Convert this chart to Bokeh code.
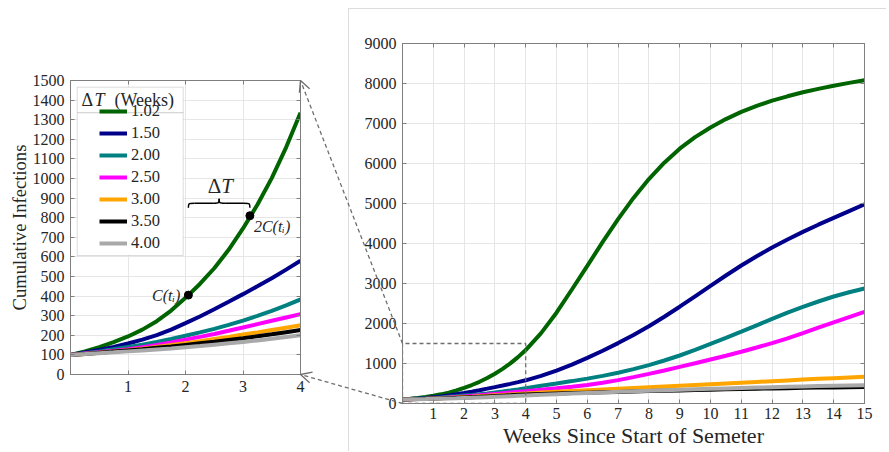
import numpy as np
from bokeh.plotting import figure
from bokeh.models import (Range1d, FixedTicker, LinearAxis, Legend, LegendItem, Label,
                          BoxAnnotation, Arrow, OpenHead)
from bokeh.embed import file_html
from bokeh.resources import INLINE

# ---------------- data ----------------
weeks = [0, 0.25, 0.5, 0.75, 1, 1.25, 1.5, 1.75, 2, 2.25, 2.5, 2.75, 3, 3.25, 3.5, 3.75, 4,
         4.5, 5, 5.5, 6, 6.5, 7, 7.5, 8, 8.5, 9, 9.5, 10, 10.5, 11, 11.5, 12, 12.5, 13, 13.5,
         14, 14.5, 15]

dt_labels = ["1.02", "1.50", "2.00", "2.50", "3.00", "3.50", "4.00"]

c_102 = [100, 118, 140, 165, 194, 229, 272, 326, 391, 462, 542, 636, 745, 866, 1002, 1159, 1335,
         1760, 2270, 2850, 3440, 4040, 4610, 5140, 5610, 6020, 6370, 6660, 6900, 7110, 7290,
         7440, 7570, 7680, 7780, 7865, 7945, 8015, 8080]
c_150 = [100, 112, 125, 140, 158, 178, 201, 229, 262, 296, 333, 371, 410, 450, 491, 535, 580,
         690, 820, 970, 1140, 1320, 1510, 1715, 1930, 2170, 2420, 2680, 2940, 3200, 3450,
         3680, 3900, 4100, 4290, 4470, 4640, 4810, 4980]
c_200 = [100, 109, 118, 129, 140, 152, 166, 181, 198, 215, 233, 253, 275, 299, 325, 353, 383,
         443, 500, 560, 622, 690, 770, 860, 960, 1075, 1200, 1340, 1490, 1640, 1795,
         1955, 2115, 2270, 2415, 2550, 2675, 2780, 2875]
c_250 = [100, 107, 114, 121, 129, 139, 151, 164, 178, 192, 207, 223, 240, 257, 274, 291, 308,
         343, 380, 420, 465, 520, 585, 660, 740, 825, 915, 1005, 1100, 1195, 1295,
         1400, 1510, 1630, 1760, 1895, 2030, 2160, 2290]
c_300 = [100, 105, 111, 117, 124, 132, 141, 150, 160, 170, 181, 192, 204, 215, 227, 239, 251,
         272, 292, 312, 331, 350, 369, 388, 407, 426, 445, 464, 483, 502, 521,
         540, 559, 578, 597, 616, 634, 652, 670]
c_350 = [100, 105, 111, 117, 123, 129, 136, 143, 151, 159, 167, 176, 185, 195, 205, 216, 227,
         238, 249, 260, 270, 280, 290, 300, 310, 319, 328, 337, 346, 354, 362,
         370, 377, 384, 391, 397, 403, 408, 413]
c_400 = [100, 104, 109, 113, 118, 123, 128, 133, 139, 145, 152, 159, 166, 174, 182, 191, 200,
         216, 232, 248, 263, 278, 292, 305, 318, 331, 343, 355, 366, 377, 388,
         398, 408, 417, 426, 435, 443, 450, 457]

series = [c_102, c_150, c_200, c_250, c_300, c_350, c_400]
colors = ["#006400", "#00008B", "#008080", "#FF00FF", "#FFA500", "#000000", "#A9A9A9"]

left_x_ticks = [1, 2, 3, 4]
left_y_ticks = list(range(0, 1501, 100))
right_x_ticks = list(range(1, 16))
right_y_ticks = list(range(0, 9001, 1000))

zoom_x_max, zoom_y_max = 4, 1500
full_x_max, full_y_max = 15, 9000

# doubling annotation: C(t_i) and 2C(t_i)
t_i, c_ti = 2.05, 405
t_2, c_2 = 3.12, 810

# ---------------- layout constants (page pixels) ----------------
FONT = "Liberation Serif"
AXC = "#7f7f7f"
GRIDC = "#e6e6e6"
TXT = "#262626"

# frame positions on the page
LF_X, LF_Y, L_FW, L_FH = 70, 80, 230, 294
RF_X, RF_Y, R_FW, R_FH = 402, 43, 462, 360
# borders around each frame
L_BL, L_BR, L_BT, L_BB = 68, 48, 72, 70
R_BL, R_BR, R_BT, R_BB = 54, 22, 35, 48
PAGE_W, PAGE_H = 888, 451


def style_axis(ax, ticks, labels=True):
    ax.ticker = FixedTicker(ticks=ticks)
    ax.axis_line_color = AXC
    ax.major_tick_line_color = AXC
    ax.major_tick_in = 4
    ax.major_tick_out = 0
    ax.minor_tick_line_color = None
    ax.major_label_text_font = FONT
    ax.major_label_text_font_size = "16px"
    ax.major_label_text_color = TXT
    ax.major_label_standoff = 6
    ax.axis_label_text_font = FONT
    ax.axis_label_text_font_style = "normal"
    ax.axis_label_text_color = TXT
    if not labels:
        ax.major_label_text_font_size = "1px"
        ax.major_label_text_color = None
        ax.major_label_standoff = 0


def make_fig(fx, fy, fw, fh, bl, br, bt, bb, xmax, ymax, xt, yt, extra_styles=None):
    styles = {"position": "absolute", "left": f"{fx - bl}px", "top": f"{fy - bt}px"}
    if extra_styles:
        styles.update(extra_styles)
    p = figure(frame_width=fw, frame_height=fh, min_border_left=bl, min_border_right=br,
               min_border_top=bt, min_border_bottom=bb, title=None,
               x_range=Range1d(0, xmax), y_range=Range1d(0, ymax),
               output_backend="svg", toolbar_location=None, styles=styles)
    p.add_layout(LinearAxis(), "above")
    p.add_layout(LinearAxis(), "right")
    style_axis(p.below[0], xt)
    style_axis(p.left[0], yt)
    style_axis(p.above[0], xt, labels=False)
    style_axis(p.right[0], yt, labels=False)
    p.xgrid.ticker = FixedTicker(ticks=xt)
    p.ygrid.ticker = FixedTicker(ticks=yt)
    p.grid.grid_line_color = GRIDC
    p.outline_line_color = AXC
    p.background_fill_color = "white"
    return p


# ---------------- left (zoomed) panel ----------------
left = make_fig(LF_X, LF_Y, L_FW, L_FH, L_BL, L_BR, L_BT, L_BB, zoom_x_max, zoom_y_max,
                left_x_ticks, left_y_ticks)
left.border_fill_alpha = 0
left.left[0].axis_label = "Cumulative Infections"
left.left[0].axis_label_text_font_size = "18.6px"
left.left[0].axis_label_standoff = 0

w = np.array(weeks)
n_left = int(np.sum(w <= zoom_x_max))
left_rs = []
for s, c in zip(series, colors):
    r = left.line(weeks[:n_left], s[:n_left], line_color=c, line_width=4)
    left_rs.append(r)

dxp = zoom_x_max / L_FW   # data units per pixel
dyp = zoom_y_max / L_FH


def lx(px):
    return px * dxp


def ly(px):
    return zoom_y_max - px * dyp


# legend frame (title box + items box)
left.add_layout(BoxAnnotation(left=lx(6.7), right=lx(112.7), top=ly(6.7), bottom=ly(32.3),
                              fill_color="white", fill_alpha=1, line_color="#8c8c8c",
                              line_width=1))
left.add_layout(BoxAnnotation(left=lx(6.7), right=lx(112.7), top=ly(32.3), bottom=ly(175),
                              fill_color="white", fill_alpha=1, line_color="#8c8c8c",
                              line_width=1))
for txt, xo, style in [("Δ", 11, "normal"), ("T", 24, "italic"), ("(Weeks)", 44, "normal")]:
    left.add_layout(Label(x=lx(xo), y=ly(19.5), text=txt, text_baseline="middle",
                          text_align="left", text_font=FONT, text_font_size="18px",
                          text_font_style=style, text_color=TXT))

legend = Legend(items=[LegendItem(label=lab, renderers=[r]) for lab, r in zip(dt_labels, left_rs)],
                location=(29, 121), padding=0, margin=0, spacing=2, label_height=18,
                glyph_height=18, glyph_width=28, label_standoff=4,
                label_text_font=FONT, label_text_font_size="16.5px", label_text_color=TXT,
                border_line_alpha=0, background_fill_alpha=0)
left.add_layout(legend)

# doubling points
left.scatter([t_i, t_2], [c_ti, c_2], size=8, color="black")
left.add_layout(Label(x=t_i, y=c_ti, text="C(tᵢ)", x_offset=-8, text_align="right",
                      text_baseline="middle", text_font=FONT, text_font_size="16px",
                      text_font_style="italic", text_color=TXT))
left.add_layout(Label(x=t_2, y=c_2, text="2C(tᵢ)", x_offset=4, y_offset=-11, text_align="left",
                      text_baseline="middle", text_font=FONT, text_font_size="16px",
                      text_font_style="italic", text_color=TXT))

# brace over Delta T
xc = (t_i + t_2) / 2
yb, ym, yt = c_2 + 8 * dyp, c_2 + 12.5 * dyp, c_2 + 17 * dyp
d = 6 * dxp
bx0 = [t_i, xc - d, xc, t_2 - d]
by0 = [yb, ym, yt, ym]
bx1 = [t_i + d, xc, xc + d, t_2]
by1 = [ym, yt, ym, yb]
bcx = [t_i, xc, xc, t_2]
bcy = [ym, ym, ym, ym]
left.bezier(x0=bx0, y0=by0, x1=bx1, y1=by1, cx0=bcx, cy0=bcy, cx1=bcx, cy1=bcy,
            line_color="black", line_width=1.5)
left.segment(x0=[t_i + d, xc + d], y0=[ym, ym], x1=[xc - d, t_2 - d], y1=[ym, ym],
             line_color="black", line_width=1.5)
left.add_layout(Label(x=xc, y=c_2, text="Δ", x_offset=2, y_offset=30, text_align="right",
                      text_baseline="middle", text_font=FONT, text_font_size="21px",
                      text_color=TXT))
left.add_layout(Label(x=xc, y=c_2, text="T", x_offset=2, y_offset=30, text_align="left",
                      text_baseline="middle", text_font=FONT, text_font_size="21px",
                      text_font_style="italic", text_color=TXT))

# ---------------- right (full) panel ----------------
right = make_fig(RF_X, RF_Y, R_FW, R_FH, R_BL, R_BR, R_BT, R_BB, full_x_max, full_y_max,
                 right_x_ticks, right_y_ticks,
                 extra_styles={"box-shadow": "inset 1px 1px 0 #dcdcdc"})
right.border_fill_alpha = 0
right.below[0].axis_label = "Weeks Since Start of Semeter"
right.below[0].axis_label_text_font_size = "22px"
right.below[0].axis_label_standoff = 1
right.below[0].major_label_standoff = 4

for s, c in zip(series, colors):
    right.line(weeks, s, line_color=c, line_width=4)

DASH = "4 3"
DC = "#6e6e6e"
right.line([0, 0, zoom_x_max, zoom_x_max, 0], [0, zoom_y_max, zoom_y_max, 0, 0],
           line_dash=DASH, line_color=DC, line_width=1.3)

# ---------------- overlay with the connecting arrows ----------------
# overlay data space = page pixels (origin at the page's top-left, y downward)
overlay = figure(frame_width=PAGE_W, frame_height=PAGE_H, min_border=0, title=None,
                 x_range=Range1d(0, PAGE_W), y_range=Range1d(PAGE_H, 0),
                 x_axis_type=None, y_axis_type=None, output_backend="svg",
                 toolbar_location=None,
                 styles={"position": "absolute", "left": "0px", "top": "0px",
                         "pointer-events": "none"})
overlay.background_fill_alpha = 0
overlay.border_fill_alpha = 0
overlay.outline_line_color = None
overlay.grid.visible = False


def left_to_page(xv, yv):
    return (LF_X + xv / zoom_x_max * L_FW, LF_Y + L_FH * (1 - yv / zoom_y_max))


def right_to_page(xv, yv):
    return (RF_X + xv / full_x_max * R_FW, RF_Y + R_FH * (1 - yv / full_y_max))


for yv in (zoom_y_max, 0):
    sx, sy = right_to_page(0, yv)
    ex, ey = left_to_page(zoom_x_max, yv)
    overlay.add_layout(Arrow(end=OpenHead(size=11, line_color=DC, line_width=1.3),
                             x_start=sx, y_start=sy, x_end=ex, y_end=ey,
                             line_dash=DASH, line_color=DC, line_width=1.3))

open("out.html", "w").write(file_html([right, left, overlay], INLINE))
